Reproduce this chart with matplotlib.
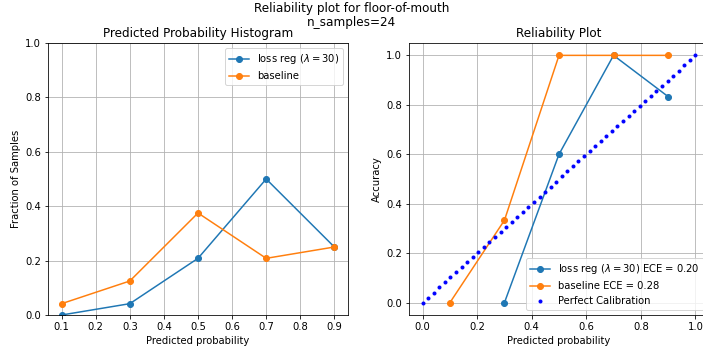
import numpy as np
import matplotlib
matplotlib.use("Agg")
import matplotlib.pyplot as plt

# bin centres and per-bin values
bins = [0.1, 0.3, 0.5, 0.7, 0.9]
frac_reg = [0.0, 1 / 24, 5 / 24, 12 / 24, 6 / 24]
frac_base = [1 / 24, 3 / 24, 9 / 24, 5 / 24, 6 / 24]

acc_bins_reg = [0.3, 0.5, 0.7, 0.9]
acc_reg = [0.0, 0.6, 1.0, 5 / 6]
acc_bins_base = [0.1, 0.3, 0.5, 0.7, 0.9]
acc_base = [0.0, 1 / 3, 1.0, 1.0, 1.0]

ece_reg = 0.20
ece_base = 0.28
lam = 30
n_samples = 24

W, H = 703, 356
fig, (ax1, ax2) = plt.subplots(1, 2, figsize=(W / 72, H / 72), dpi=72)
# right panel runs past the figure edge, as in the original (cropped) image
ax1.set_position([48 / W, 41 / H, 300 / W, 272 / H])
ax2.set_position([409 / W, 41 / H, 300 / W, 272 / H])
fig.suptitle(f"Reliability plot for floor-of-mouth\nn_samples={n_samples}",
             fontsize=12, y=0.995, linespacing=1.1)

# histogram of predicted probabilities
ax1.plot(bins, frac_reg, "o-", label=rf"loss reg ($\lambda = {lam}$)")
ax1.plot(bins, frac_base, "o-", label="baseline")
ax1.set_ylim(0, 1)
ax1.set_xticks(np.arange(0.1, 0.95, 0.1))
ax1.set_title("Predicted Probability Histogram")
ax1.set_xlabel("Predicted probability")
ax1.set_ylabel("Fraction of Samples")
ax1.grid(True)
ax1.legend(loc="upper right")

# reliability diagram
ax2.plot(acc_bins_reg, acc_reg, "o-", label=rf"loss reg ($\lambda = {lam}$) ECE = {ece_reg:.2f}")
ax2.plot(acc_bins_base, acc_base, "o-", label=f"baseline ECE = {ece_base:.2f}")
diag = np.linspace(0, 1, 50)
ax2.plot(diag, diag, "b.", label="Perfect Calibration")
ax2.set_title("Reliability Plot")
ax2.set_xlabel("Predicted probability")
ax2.set_ylabel("Accuracy")
ax2.grid(True)
ax2.legend(loc="lower right")

plt.savefig("out.png", dpi=72)
